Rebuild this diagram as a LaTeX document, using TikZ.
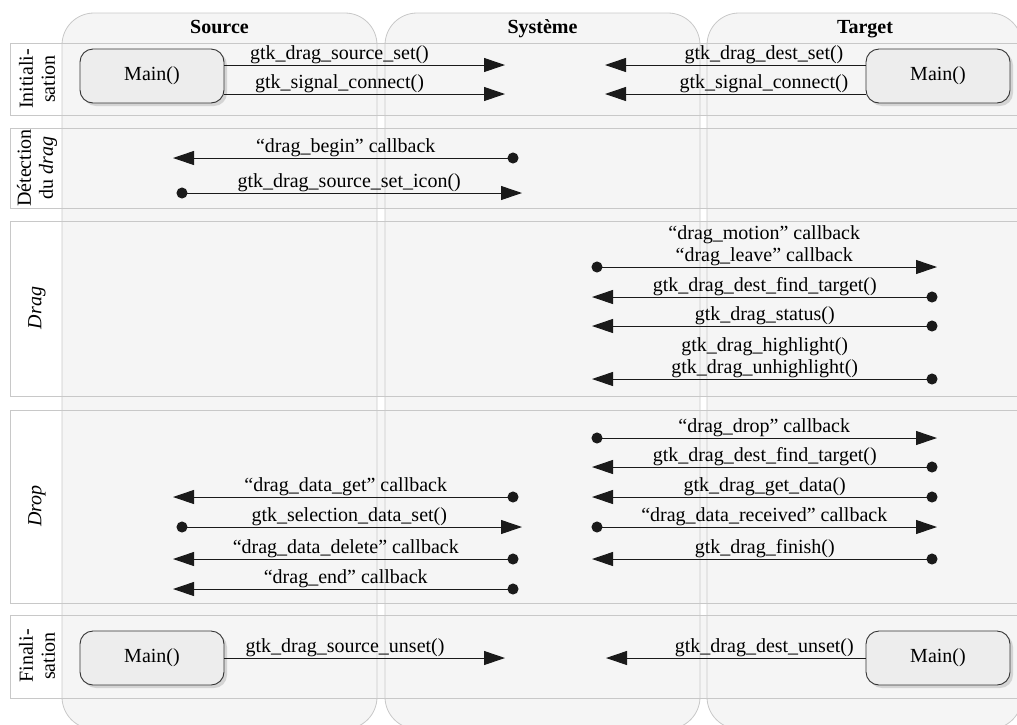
\documentclass[tikz,border=0pt]{standalone}
\usepackage{fontspec}
\setmainfont{Liberation Serif}
\usetikzlibrary{arrows.meta,shadows}
\definecolor{lanefill}{HTML}{F5F5F5}
\definecolor{laneline}{HTML}{C8C8C8}
\definecolor{boxfill}{HTML}{EDEDED}
\definecolor{msgline}{HTML}{1A1A1A}

\begin{document}
\begin{tikzpicture}[x=1pt,y=-1pt,
  font=\fontsize{20}{22}\selectfont,
  lane/.style={draw=laneline, fill=lanefill, line width=0.8pt, rounded corners=32pt},
  bandfill/.style={fill=lanefill},
  band/.style={draw=laneline, line width=0.8pt},
  lanehead/.style={font=\fontsize{20}{22}\selectfont\bfseries, inner sep=0pt, anchor=base},
  phase/.style={rotate=90, align=center, inner sep=0pt},
  mainbox/.style={draw=black!80, fill=boxfill, line width=0.9pt, rounded corners=13pt,
    minimum width=144pt, minimum height=54pt,
    drop shadow={shadow xshift=3pt, shadow yshift=-3pt, fill=black!25, opacity=0.6}},
  msg/.style={draw=msgline, line width=1pt},
  fwd/.style={msg, -{Triangle[length=21pt,width=14pt]}},
  dotfwd/.style={msg, {Circle[length=11pt]}-{Triangle[length=21pt,width=14pt]}},
  lbl/.style={above, inner sep=0.5pt, align=center},
]
\useasboundingbox (0,0) rectangle (1017,724);
\clip (0,0) rectangle (1017,724);

% swimlane backgrounds
\fill[lanefill, rounded corners=32pt] (62,13) rectangle (377,729);
\fill[lanefill, rounded corners=32pt] (385,13) rectangle (700,729);
\fill[lanefill, rounded corners=32pt] (707,13) rectangle (1022,729);

% phase band backgrounds
\fill[bandfill] (62,43) rectangle (1030,115);
\fill[bandfill] (62,128) rectangle (1030,208);
\fill[bandfill] (62,221) rectangle (1030,396);
\fill[bandfill] (62,410) rectangle (1030,603);
\fill[bandfill] (62,615) rectangle (1030,698);

% swimlane outlines
\draw[lane, fill=none] (62,13) rectangle (377,729);
\draw[lane, fill=none] (385,13) rectangle (700,729);
\draw[lane, fill=none] (707,13) rectangle (1022,729);

% phase band outlines
\draw[band] (10,43) rectangle (1030,115);
\draw[band] (10,128) rectangle (1030,208);
\draw[band] (10,221) rectangle (1030,396);
\draw[band] (10,410) rectangle (1030,603);
\draw[band] (10,615) rectangle (1030,698);

% lane headers
\node[lanehead] (hSource) at (219.5,33) {Source};
\node[lanehead] (hSystem) at (542.5,33) {Système};
\node[lanehead] (hTarget) at (865,33) {Target};

% phase labels
\node[phase] (pInit) at (37,79) {Initiali-\\sation};
\node[phase] (pDet) at (37,168) {Détection\\du \textit{drag}};
\node[phase] (pDrag) at (37,308) {\textit{Drag}};
\node[phase] (pDrop) at (37,506) {\textit{Drop}};
\node[phase] (pFin) at (37,656) {Finali-\\sation};

% ---- Initialisation
\node[mainbox] (srcMainA) at (152,76) {Main()};
\node[mainbox] (tgtMainA) at (938,76) {Main()};
\coordinate (sysA1) at (505,65);
\coordinate (sysA2) at (505,94);
\coordinate (sysB1) at (605,65);
\coordinate (sysB2) at (605,94);
\draw[fwd] (srcMainA.east |- sysA1) -- node[lbl, pos=0.41] (tA1) {gtk\_drag\_source\_set()} (sysA1);
\draw[fwd] (srcMainA.east |- sysA2) -- node[lbl, pos=0.41] (tA2) {gtk\_signal\_connect()} (sysA2);
\draw[fwd] (tgtMainA.west |- sysB1) -- node[lbl, pos=0.39] (tB1) {gtk\_drag\_dest\_set()} (sysB1);
\draw[fwd] (tgtMainA.west |- sysB2) -- node[lbl, pos=0.39] (tB2) {gtk\_signal\_connect()} (sysB2);

% ---- Detection du drag
\coordinate (dSys1) at (518.5,158);
\coordinate (dSrc1) at (173,158);
\coordinate (dSrc2) at (176.5,193);
\coordinate (dSys2) at (522,193);
\draw[dotfwd] (dSys1) -- node[lbl] (tD1) {“drag\_begin” callback} (dSrc1);
\draw[dotfwd] (dSrc2) -- node[lbl] (tD2) {gtk\_drag\_source\_set\_icon()} (dSys2);

% ---- Drag
\coordinate (gSys1) at (591.5,267);
\coordinate (gTgt1) at (937,267);
\coordinate (gTgt2) at (937.5,297);
\coordinate (gSys2) at (592,297);
\coordinate (gTgt3) at (937.5,326);
\coordinate (gSys3) at (592,326);
\coordinate (gTgt4) at (937.5,379);
\coordinate (gSys4) at (592,379);
\draw[dotfwd] (gSys1) -- node[lbl] (tG1) {“drag\_motion” callback\\“drag\_leave” callback} (gTgt1);
\draw[dotfwd] (gTgt2) -- node[lbl] (tG2) {gtk\_drag\_dest\_find\_target()} (gSys2);
\draw[dotfwd] (gTgt3) -- node[lbl] (tG3) {gtk\_drag\_status()} (gSys3);
\draw[dotfwd] (gTgt4) -- node[lbl] (tG4) {gtk\_drag\_highlight()\\gtk\_drag\_unhighlight()} (gSys4);

% ---- Drop, system / target side
\coordinate (pSys1) at (591.5,438);
\coordinate (pTgt1) at (937,438);
\coordinate (pTgt2) at (937.5,467);
\coordinate (pSys2) at (592,467);
\coordinate (pTgt3) at (937.5,497);
\coordinate (pSys3) at (592,497);
\coordinate (pSys4) at (591.5,527);
\coordinate (pTgt4) at (937,527);
\coordinate (pTgt5) at (937.5,559);
\coordinate (pSys5) at (592,559);
\draw[dotfwd] (pSys1) -- node[lbl] (tP1) {“drag\_drop” callback} (pTgt1);
\draw[dotfwd] (pTgt2) -- node[lbl] (tP2) {gtk\_drag\_dest\_find\_target()} (pSys2);
\draw[dotfwd] (pTgt3) -- node[lbl] (tP3) {gtk\_drag\_get\_data()} (pSys3);
\draw[dotfwd] (pSys4) -- node[lbl] (tP4) {“drag\_data\_received” callback} (pTgt4);
\draw[dotfwd] (pTgt5) -- node[lbl] (tP5) {gtk\_drag\_finish()} (pSys5);

% ---- Drop, source / system side
\coordinate (qSys1) at (518.5,497);
\coordinate (qSrc1) at (173,497);
\coordinate (qSrc2) at (176.5,527);
\coordinate (qSys2) at (522,527);
\coordinate (qSys3) at (518.5,559);
\coordinate (qSrc3) at (173,559);
\coordinate (qSys4) at (518.5,589);
\coordinate (qSrc4) at (173,589);
\draw[dotfwd] (qSys1) -- node[lbl] (tQ1) {“drag\_data\_get” callback} (qSrc1);
\draw[dotfwd] (qSrc2) -- node[lbl] (tQ2) {gtk\_selection\_data\_set()} (qSys2);
\draw[dotfwd] (qSys3) -- node[lbl] (tQ3) {“drag\_data\_delete” callback} (qSrc3);
\draw[dotfwd] (qSys4) -- node[lbl] (tQ4) {“drag\_end” callback} (qSrc4);

% ---- Finalisation
\node[mainbox] (srcMainB) at (152,658) {Main()};
\node[mainbox] (tgtMainB) at (938,658) {Main()};
\coordinate (sysC1) at (505,658);
\coordinate (sysD1) at (606,658);
\draw[fwd] (srcMainB.east) -- node[lbl, pos=0.43] (tC1) {gtk\_drag\_source\_unset()} (sysC1);
\draw[fwd] (tgtMainB.west) -- node[lbl, pos=0.39] (tD1f) {gtk\_drag\_dest\_unset()} (sysD1);
\end{tikzpicture}
\end{document}
